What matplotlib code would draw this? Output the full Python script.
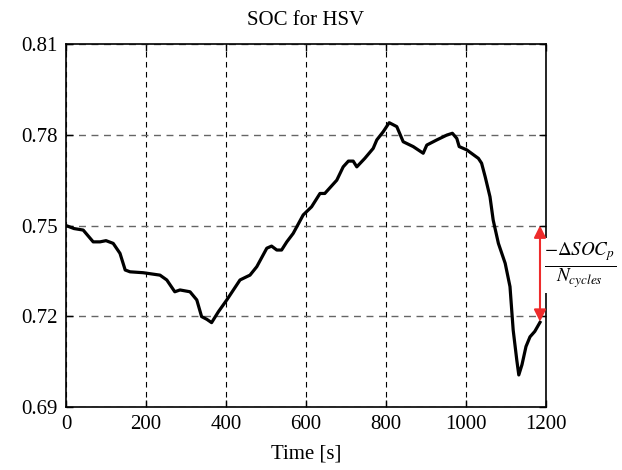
import matplotlib
matplotlib.use("Agg")
import matplotlib.pyplot as plt

# SOC trace
time_s = [0, 20, 43, 68, 85, 100, 118, 135, 148, 160, 193, 235, 252, 272, 285,
          310, 327, 339, 352, 364, 381, 402, 435, 452, 460, 477, 502, 514, 527,
          539, 552, 568, 593, 614, 635, 647, 677, 693, 706, 718, 727, 747, 768,
          777, 793, 808, 827, 843, 868, 893, 902, 927, 952, 966, 977, 983, 1002,
          1031, 1039, 1048, 1060, 1068, 1081, 1098, 1110, 1118, 1127, 1132,
          1140, 1150, 1160, 1172, 1185]
soc = [0.750, 0.749, 0.7485, 0.7446, 0.7446, 0.7450, 0.7441, 0.7408, 0.7353,
       0.7347, 0.7344, 0.7336, 0.7320, 0.7281, 0.7287, 0.7281, 0.7254, 0.7199,
       0.7190, 0.7179, 0.7215, 0.7254, 0.7320, 0.7331, 0.7336, 0.7364, 0.7425,
       0.7432, 0.7419, 0.7419, 0.7446, 0.7474, 0.7535, 0.7562, 0.7606, 0.7606,
       0.7650, 0.7694, 0.7713, 0.7713, 0.7694, 0.7722, 0.7755, 0.7783, 0.7810,
       0.7840, 0.7827, 0.7777, 0.7761, 0.7739, 0.7766, 0.7783, 0.7799, 0.7805,
       0.7788, 0.7761, 0.7750, 0.7722, 0.7706, 0.7661, 0.7595, 0.7518, 0.7441,
       0.7375, 0.7298, 0.7154, 0.7055, 0.7006, 0.7040, 0.7100, 0.7132, 0.7150,
       0.7180]

x_ticks = [0, 200, 400, 600, 800, 1000, 1200]
y_ticks = [0.69, 0.72, 0.75, 0.78, 0.81]
arrow_t = 1185
arrow_top = 0.750
arrow_bot = 0.7182

plt.rcParams['font.family'] = ['Liberation Serif', 'DejaVu Serif']
plt.rcParams['mathtext.fontset'] = 'stix'

fig = plt.figure(figsize=(6.22, 4.70), dpi=100)
ax = fig.add_axes([0.1061, 0.134, 0.7717, 0.7723])

ax.plot(time_s, soc, color='black', linewidth=2.3, zorder=3)

ax.set_xlim(0, 1200)
ax.set_ylim(0.69, 0.81)
ax.set_xticks(x_ticks)
ax.set_yticks(y_ticks)
ax.set_yticklabels(['%.2f' % v for v in y_ticks])
ax.tick_params(direction='in', length=5, width=1, labelsize=15, pad=6,
               top=True, right=True)
for s in ax.spines.values():
    s.set_linewidth(1.2)

# vertical grid black, horizontal grid grey
ax.xaxis.grid(True, linestyle=(0, (5, 4)), color='black', linewidth=0.8)
ax.yaxis.grid(True, linestyle=(0, (5, 4)), color='#666666', linewidth=1.0)

ax.set_title('SOC for HSV', fontsize=15, pad=14)
ax.set_xlabel('Time [s]', fontsize=15, labelpad=7)

# red double arrow, drawn above the white box of the label
ax.annotate('', xy=(arrow_t, arrow_top), xytext=(arrow_t, arrow_bot),
            arrowprops=dict(arrowstyle='<|-|>', color='#ee2b2b', lw=1.5,
                            mutation_scale=18, shrinkA=0, shrinkB=0),
            zorder=7, annotation_clip=False)

ax.text(1196, 0.7368, r'$\frac{-\Delta SOC_p}{N_{cycles}}$', fontsize=19.5,
        ha='left', va='center', clip_on=False, zorder=5,
        bbox=dict(facecolor='white', edgecolor='none', pad=2))

fig.savefig('out.png', dpi=100)
